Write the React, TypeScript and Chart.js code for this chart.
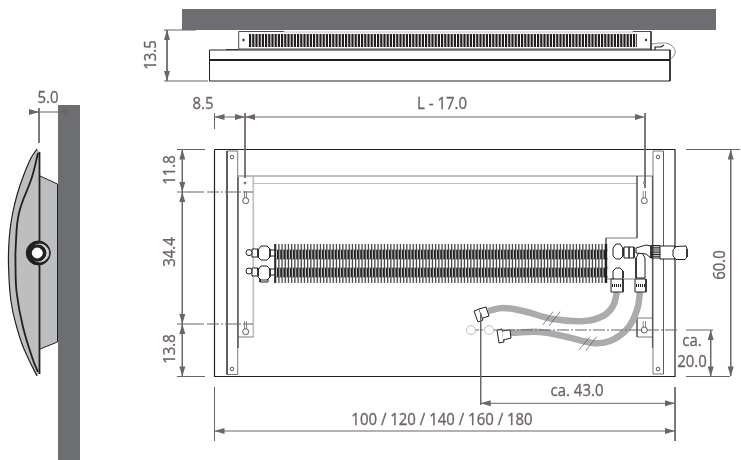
import { useEffect, useRef } from "react";
import { Chart, registerables } from "chart.js";
Chart.register(...registerables);

type P = number[][];
const INK = "#231f20", DIM = "#6d6466", WALL = "#6d6e71", GREY = "#bcbec0", HOSE = "#a9abae", MID = "#58595b";

// ---- filled areas
const wallTop: P = [[182,9],[716,9],[716,30],[182,30]];
const wallSide: P = [[58,105],[80,105],[80,460],[58,460]];
const sideOuter: P = [[37,149],[31,158],[23,177],[17,195],[12.7,213],[10,230],[8.7,247],[8.5,265],[10,293],[12.5,310],[16.7,327],[22,344],[29,360],[37,376]];
const sideInner: P = [[38,153],[32,177],[19,213],[15.7,247],[15.5,265],[16.7,293],[23,327],[33,360],[38,372]];
const sideCover: P = [...sideOuter, [40,372], [40,152]];
const sideBracket: P = [[40,176],[57.5,184],[57.5,342],[40,349]];
// ---- hoses
const hoseA: P = [[617,292],[613,306],[603,316],[584,321],[553,319],[523,311],[503,308],[488,311]];
const hoseB: P = [[640,292],[637,310],[627,329],[610,341],[593,343],[567,337],[540,332],[510,333]];
// ---- top view
const topBoxOutline: P = [[209.5,81],[209.5,50],[670,50],[670,81],[209.5,81]];
const topHeavy: P = [[210,60],[670,60]];
const topBracket: P = [[226,49.5],[238.7,49.5],[238.7,31.5],[284,31.5]];
const topBracketR: P = [[633,31.5],[651,31.5],[651,50]];
const topBracketGrey: P = [[284,32],[633,32]];
const topBracketBase: P = [[239,49],[651,49]];
const topGrille: P = [[249,40.5],[637,40.5]];
const topKnob: P = [[652,44],[661,43],[669,44],[675,50],[673,57],[669,59]];
const topValve: P = [[655,50],[655,47],[661,47],[664,45]];
// ---- front view outline and brackets
const mainBox: P = [[214.5,149.5],[675,149.5],[675,376.5],[214.5,376.5],[214.5,149.5]];
const stripL: P = [[237.7,151],[227,151],[227,374.5],[237.7,374.5],[237.7,151]];
const stripLHeavy: P = [[227,151],[227,374.5]];
const stripLInner: P = [[238,177],[238,348]];
const stripR: P = [[653,151],[663.5,151],[663.5,374],[653,374],[653,151]];
const railTop: P = [[238,176],[652.7,176]];
const railLow: P = [[253,183.5],[637,183.5]];
const railRight: P = [[637,176],[637,238],[606,238],[606,250]];
const railLowFrame: P = [[606,268],[606,279],[636,279]];
const railLeftGrey: P = [[253.3,176],[253.3,337]];
const lowerBracketL: P = [[238,337],[253.3,337]];
const lowerBracketR: P = [[652,318],[637,318],[637,337],[652,337]];
const rightHeavy: P = [[652.5,176],[652.5,348]];
// ---- coil
const coilFins: P = [[275,263.5],[608,263.5]];
const coilTubeA: P = [[277,254.5],[606,254.5]];
const coilTubeB: P = [[277,272.5],[606,272.5]];
const coilRails: P[] = [[[275,250],[608,250]],[[275,259],[608,259]],[[275,268],[608,268]],[[275,277],[608,277]]];
const coilEnd: P = [[275,244],[275,283]];
const coilCap: P = [[606,244],[606,283]];
// ---- valves
const valveTL: P = [[258,250],[261,246],[267,246],[270,249],[270,257],[267,260],[261,260],[258,257],[258,250]];
const valveBL: P = [[258,270],[261,266],[267,266],[270,269],[270,277],[267,280],[261,280],[258,277],[258,270]];
const hexLA: P = [[252,249],[258,249],[258,257],[252,257],[252,249]];
const hexLB: P = [[252,268],[258,268],[258,276],[252,276],[252,268]];
const squareLB: P = [[260,278],[260,282],[268,282],[268,278]];
const valvePipeL: P[] = [[[270,250],[276,250]],[[270,256],[276,256]],[[270,269],[276,269]],[[270,275],[276,275]]];
const valveTR: P = [[613,248],[616,244],[620,244],[623,248],[623,256],[620,259],[616,259],[613,256],[613,248]];
const valveBR: P = [[613,271],[616,268],[620,268],[623,271],[623,278],[620,281],[616,281],[613,278],[613,271]];
const hexR: P = [[624,247],[634,247],[634,258],[624,258],[624,247]];
const hexRv: P = [[629,247],[629,258]];
const teeStem: P = [[636,258],[636,278],[645,278],[645,258],[640.5,250],[636,258]];
const teeTop: P = [[636,248],[646,245],[651,246],[651,258],[646,254],[636,253],[636,248]];
const thermoBody: P = [[660,246],[675,246],[675,259],[660,259],[660,246]];
const thermoKnurl: P = [[655.5,245],[655.5,259]];
const thermoCap: P = [[673,250],[676,246.5],[686,246],[687,249],[687,257],[685,259.5],[676,259.5],[673,256],[673,250]];
const fitA: P = [[611,279],[623,279],[623,292],[611,292],[611,279]];
const fitAb: P = [[612,285.5],[622,285.5]];
const fitB: P = [[635,279],[646,279],[646,292],[635,292],[635,279]];
const fitBb: P = [[636,285.5],[645,285.5]];
const nutA1: P = [[474,311],[479,309],[483,320],[478,322],[474,311]];
const nutA2: P = [[479,309],[486,307],[489,316],[483,318]];
const nutB1: P = [[497,330],[502,329],[504,342],[499,343],[497,330]];
const nutB2: P = [[502,331],[510,330],[511,338],[503,340]];
// ---- keyholes
const keySlots: P[] = [[[245.5,191],[245.5,198]],[[644.3,191],[644.3,198]],[[245.5,321],[245.5,329]],[[644.3,321],[644.3,327]]];
// ---- hose break marks
const breakA: P = [[542.7,325],[553,311.7]];
const breakB: P = [[549,326],[560,311.7]];
const breakC: P = [[579,350],[590,336.7]];
const breakD: P = [[585.7,350.7],[596.7,336.7]];
// ---- side view lines
const sideStem: P = [[39.5,152],[39.5,374]];
const sideBracketLine: P = [[40,176],[57.5,184],[57.5,342],[40,349]];
// ---- dimension lines
const dimLines: P[] = [
  [[167,30],[167,81]], [[164,30],[196,30]], [[164,81],[208,81]],
  [[214.5,117],[245,117]], [[245,117],[643,117]],
  [[214.5,113],[214.5,129]], [[245,113],[245,178]], [[645,113],[645,188]],
  [[182.3,149.5],[182.3,376.5]], [[177,149.5],[205,149.5]], [[177,376.5],[205,376.5]],
  [[177,192],[204,192]], [[177,324],[204,324]],
  [[686,149.5],[740,149.5]], [[730.7,150],[730.7,376]], [[686,376.5],[730,376.5]],
  [[686,330],[713,330]], [[710.7,330],[710.7,376]],
  [[214.5,431],[675,431]], [[214.5,387],[214.5,441]], [[675,387],[675,441]],
  [[480.7,403.3],[675,403.3]], [[480.7,313],[480.7,405]],
  [[29,112],[58,112]], [[39,108],[39,143]],
];
const centreLines: P[] = [ [[207,192],[253,192]], [[207,324],[253,324]], [[467,330],[679,330]] ];
// tip x, tip y, direction: l r u d
const dimArrows: (number | string)[][] = [
  [167,30,"u"],[167,81,"d"],[214.5,117,"l"],[245,117,"r"],[245,117,"l"],[645,117,"r"],
  [182.3,149.5,"u"],[182.3,192,"d"],[182.3,192,"u"],[182.3,324,"d"],[182.3,324,"u"],[182.3,376.5,"d"],
  [730.7,149.5,"u"],[730.7,376.5,"d"],[710.7,330,"u"],[710.7,376.5,"d"],
  [214.5,431,"l"],[675,431,"r"],[480.7,403.3,"l"],[675,403.3,"r"],[39,112,"r"],[58,112,"l"],
];
// x, y, radius, fill, stroke
const circles: (number | string)[][] = [
  [38.3,253,12,INK,INK],[39.8,253,9,"#d8d9da",GREY],[38,253,8,INK,INK],[37.3,253,5,"#ffffff","#ffffff"],
  [232,157,1.8,"#ffffff",MID],[232,369,1.8,"#ffffff",MID],[658,157,1.8,"#ffffff",MID],[658,369,1.8,"#ffffff",MID],
  [245.7,200.7,3,"#ffffff",MID],[644.3,200.7,3,"#ffffff",MID],[245.7,331.7,3,"#ffffff",MID],[644.3,330,3,"#ffffff",MID],
  [245,183,1,"#ffffff",MID],[644.5,183,1,"#ffffff",MID],
  [249,252.6,3,"#ffffff",INK],[249,271,3,"#ffffff",INK],
  [471,330,4.5,"#ffffff",GREY],[489,330,4.5,"#ffffff",GREY],
  [243.5,40,0.8,INK,INK],[646,40,0.8,INK,INK],
];
const texts: (string | number)[][] = [
  ["13.5",151,55,-90],["8.5",203,104,0],["L - 17.0",442,104,0],["5.0",48,98,0],
  ["11.8",170,170,-90],["34.4",170,252,-90],["13.8",170,349,-90],["60.0",720,265,-90],
  ["100 / 120 / 140 / 160 / 180",442,420,0],["ca. 43.0",577,391,0],["ca.",692,341,0],["20.0",692,362,0],
];

const xy = (p: P) => p.map(([x, y]) => ({ x, y }));
const stroke = (p: P, color: string, w = 1, extra: object = {}) => ({
  data: xy(p), borderColor: color, borderWidth: w, pointRadius: 0, showLine: true, fill: false, ...extra,
});
const shape = (p: P, color: string, extra: object = {}) => ({
  data: xy([...p, p[0]]), borderColor: color, backgroundColor: color, borderWidth: 0, pointRadius: 0,
  showLine: true, fill: "shape", ...extra,
});
const arrowShape = (a: (number | string)[]) => {
  const [x, y, d] = a as [number, number, string];
  const len = 10, hw = 3;
  const p: P = d === "l" ? [[x, y], [x + len, y - hw], [x + len, y + hw]]
    : d === "r" ? [[x, y], [x - len, y - hw], [x - len, y + hw]]
    : d === "u" ? [[x, y], [x - hw, y + len], [x + hw, y + len]]
    : [[x, y], [x - hw, y - len], [x + hw, y - len]];
  return shape(p, DIM);
};
const dot = (c: (number | string)[]) => ({
  data: [{ x: c[0] as number, y: c[1] as number }], pointRadius: c[2] as number, pointBackgroundColor: c[3] as string,
  pointBorderColor: c[4] as string, pointBorderWidth: 1, showLine: false,
});

const valveShapes = [valveTL, valveBL, hexLA, hexLB, valveTR, valveBR, hexR, teeStem, teeTop, thermoBody, thermoCap, fitA, fitB, nutA1, nutA2, nutB1, nutB2];

const labelPlugin = {
  id: "labels",
  afterDatasetsDraw(chart: any) {
    const { ctx, scales } = chart;
    ctx.save();
    ctx.fillStyle = DIM;
    ctx.strokeStyle = DIM;
    ctx.lineWidth = 0.35;
    ctx.font = '17px "Open Sans"';
    ctx.textAlign = "center";
    ctx.textBaseline = "middle";
    texts.forEach(([t, x, y, r]) => {
      ctx.save();
      ctx.translate(scales.x.getPixelForValue(x as number), scales.y.getPixelForValue(y as number));
      ctx.rotate(((r as number) * Math.PI) / 180);
      ctx.scale(0.88, 1);
      ctx.fillText(t as string, 0, 0);
      ctx.strokeText(t as string, 0, 0);
      ctx.restore();
    });
    ctx.restore();
  },
};

export default function App() {
  const ref = useRef<HTMLCanvasElement>(null);
  useEffect(() => {
    const list: any[] = [
      shape(wallTop, WALL), shape(wallSide, WALL),
      shape(sideCover, GREY), shape(sideBracket, GREY),
      stroke(sideOuter, INK, 1.2, { tension: 0.4 }), stroke(sideInner, INK, 1.8, { tension: 0.4 }),
      stroke(sideStem, INK, 1.8), stroke(sideBracketLine, INK, 1),
      stroke(topBoxOutline, INK, 1), stroke(topHeavy, INK, 2),
      stroke(topBracket, INK, 0.8), stroke(topBracketR, INK, 0.8), stroke(topBracketGrey, GREY, 1.2), stroke(topBracketBase, INK, 0.8),
      stroke(topGrille, INK, 13, { borderDash: [2.2, 1] }),
      stroke(topKnob, MID, 0.7, { tension: 0.4 }), stroke(topValve, INK, 1.2),
      stroke(mainBox, INK, 1.2),
      stroke(stripL, MID, 0.8), stroke(stripLHeavy, MID, 1.6), stroke(stripLInner, MID, 1.5), stroke(stripR, MID, 0.8),
      stroke(railTop, MID, 0.8), stroke(railLow, GREY, 1), stroke(railRight, MID, 0.8), stroke(railLowFrame, MID, 0.8), stroke(railLeftGrey, GREY, 1.6),
      stroke(lowerBracketL, MID, 0.8), stroke(lowerBracketR, MID, 0.8), stroke(rightHeavy, MID, 1.2),
      stroke(coilFins, "#4a4a4a", 39, { borderDash: [1.3, 1.9] }),
      stroke(coilTubeA, INK, 9, { borderDash: [1.7, 1.5] }), stroke(coilTubeB, INK, 9, { borderDash: [1.7, 1.5] }),
      ...coilRails.map((l) => stroke(l, MID, 0.8)),
      stroke(coilEnd, INK, 0.8), stroke(coilCap, INK, 2),
      stroke(hoseA, HOSE, 6.5, { tension: 0.4 }), stroke(hoseB, HOSE, 6.5, { tension: 0.4 }),
      ...valvePipeL.map((l) => stroke(l, INK, 1)),
      stroke(squareLB, INK, 1),
      ...valveShapes.map((s) => stroke(s, INK, 1, { fill: "shape", backgroundColor: "#ffffff" })),
      stroke(hexRv, INK, 1.5), stroke(thermoKnurl, INK, 9, { borderDash: [1, 0.8] }),
      stroke(fitAb, INK, 3, { borderDash: [1, 1] }), stroke(fitBb, INK, 3, { borderDash: [1, 1] }),
      stroke(breakA, MID, 0.7), stroke(breakB, MID, 0.7), stroke(breakC, MID, 0.7), stroke(breakD, MID, 0.7),
      ...keySlots.map((l) => stroke(l, MID, 3)),
      ...keySlots.map((l) => stroke(l, "#ffffff", 1.6)),
      ...dimLines.map((l) => stroke(l, DIM, 1)),
      ...centreLines.map((l) => stroke(l, DIM, 1.2, { borderDash: [12, 2, 2, 2] })),
      ...circles.map(dot),
      ...dimArrows.map(arrowShape),
    ];
    list.forEach((d, i) => (d.order = list.length - i));
    const chart = new Chart(ref.current!, {
      type: "scatter",
      data: { datasets: list },
      plugins: [labelPlugin],
      options: {
        animation: false, responsive: false, devicePixelRatio: 1,
        layout: { padding: 0, autoPadding: false },
        plugins: { legend: { display: false }, tooltip: { enabled: false } },
        scales: {
          x: { type: "linear", min: 0, max: 741, display: false },
          y: { type: "linear", min: 0, max: 460, reverse: true, display: false },
        },
      },
    } as any);
    return () => chart.destroy();
  }, []);
  return (
    <div style={{ position: "fixed", left: 0, top: 0, width: 741, height: 460, background: "#fff" }}>
      <canvas ref={ref} width={741} height={460} style={{ display: "block" }} />
    </div>
  );
}
